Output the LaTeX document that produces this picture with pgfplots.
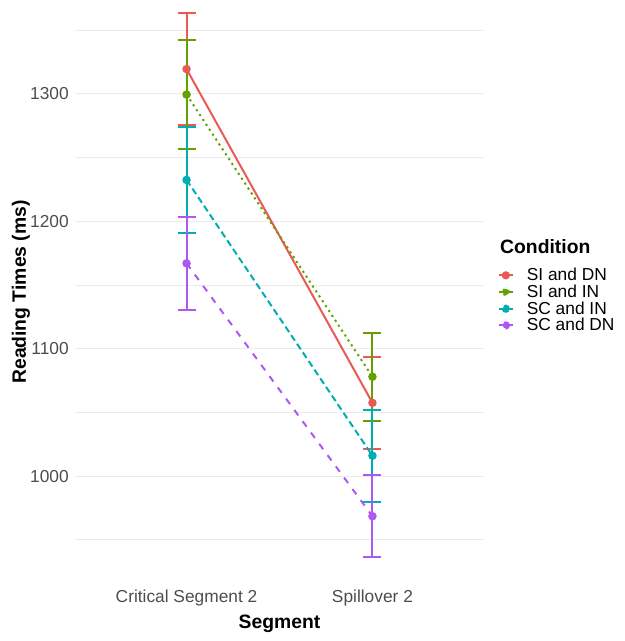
\documentclass[border=0pt]{standalone}
\usepackage{fontspec}
\setmainfont{Liberation Sans}
\usepackage{pgfplots}
\pgfplotsset{compat=1.18}
\definecolor{cred}{HTML}{EA5A55}
\definecolor{cgreen}{HTML}{64A000}
\definecolor{cteal}{HTML}{00AEB2}
\definecolor{cpurple}{HTML}{AD58F0}
\definecolor{gridc}{HTML}{EBEBEB}
\definecolor{tickc}{HTML}{4D4D4D}
\begin{document}
\begin{tikzpicture}
\begin{axis}[
  name=ax,
  scale only axis,
  clip=false,
  width=306.75pt, height=438pt,
  xmin=0.4, xmax=2.6,
  ymin=915.3, ymax=1373.75,
  xtick={1,2},
  xticklabels={Critical Segment 2, Spillover 2},
  ytick={1000,1100,1200,1300},
  minor ytick={950,1050,1150,1250,1350},
  ymajorgrids, yminorgrids,
  major grid style={draw=gridc, line width=0.8pt},
  minor grid style={draw=gridc, line width=0.5pt},
  axis line style={draw=none},
  major tick length=0pt, minor tick length=0pt,
  tick style={draw=none},
  /pgf/number format/assume math mode=true,
  /pgf/number format/1000 sep={},
  ticklabel style={font=\fontsize{13pt}{15pt}\selectfont, text=tickc},
  yticklabel style={inner sep=0pt, xshift=-4.5pt},
  xticklabel style={inner sep=0pt, yshift=-4pt},
  every axis x label/.style={at={(axis description cs:0.5,0)}, anchor=center, yshift=-30pt},
  every axis y label/.style={at={(axis description cs:-0.132,0.5)}, rotate=90, anchor=center},
  label style={font=\fontsize{14.5pt}{17pt}\selectfont\bfseries},
  xlabel={Segment},
  ylabel={Reading Times (ms)},
  legend style={at={(axis description cs:1.034,0.546)}, anchor=north west, draw=none, fill=none,
    font=\fontsize{13pt}{15pt}\selectfont, row sep=-2.4pt, inner sep=0pt,
    /tikz/every odd column/.style={column sep=8pt}},
  legend cell align=left,
  legend image code/.code={
    \draw[solid, line width=1.5pt] (0pt,0pt) -- (10pt,0pt);
    \fill (5pt,0pt) circle (2.3pt);
  },
  every axis plot/.append style={line width=1.5pt, mark size=2.4pt},
  error bars/error bar style={solid, line width=1.5pt},
  error bars/error mark options={solid, line width=1.5pt, mark size=6.75pt, rotate=90},
]
\addplot[cred, solid, mark=*, mark options={solid},
  error bars/.cd, y dir=both, y explicit]
  coordinates {(1,1319.5) +- (0,44) (2,1057.5) +- (0,36)};
\addlegendentry{SI and DN}
\addplot[cgreen, dash pattern=on 1.6pt off 2.8pt, mark=*, mark options={solid},
  error bars/.cd, y dir=both, y explicit]
  coordinates {(1,1299.5) +- (0,43) (2,1078) +- (0,34.5)};
\addlegendentry{SI and IN}
\addplot[cteal, dash pattern=on 5pt off 2.8pt, mark=*, mark options={solid},
  error bars/.cd, y dir=both, y explicit]
  coordinates {(1,1232.5) +- (0,41.5) (2,1016) +- (0,36)};
\addlegendentry{SC and IN}
\addplot[cpurple, dash pattern=on 5pt off 5.5pt, mark=*, mark options={solid},
  error bars/.cd, y dir=both, y explicit]
  coordinates {(1,1167) +- (0,36.5) (2,968.5) +- (0,32)};
\addlegendentry{SC and DN}
\node[anchor=west, inner sep=0pt, font=\fontsize{14.5pt}{17pt}\selectfont\bfseries]
  at (axis description cs:1.039,0.577) {Condition};
\end{axis}
\pgfresetboundingbox
\path[use as bounding box] (ax.south west) ++(-56.25pt,-42.75pt) rectangle ++(468pt,480.75pt);
\end{tikzpicture}
\end{document}
